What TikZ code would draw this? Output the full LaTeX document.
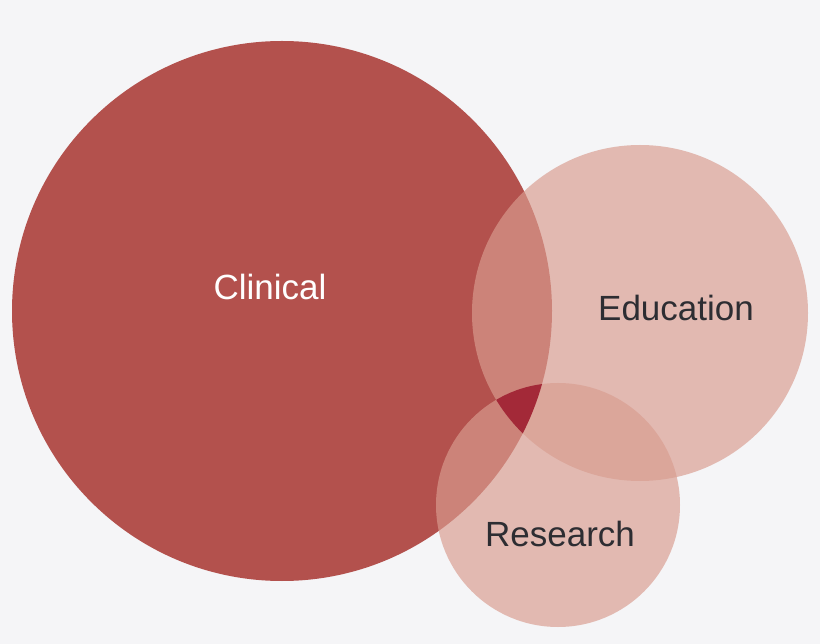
\documentclass[tikz,border=0pt]{standalone}
\usepackage{fontspec}
\setmainfont{Liberation Sans}
\definecolor{bgc}{RGB}{245,245,247}
\definecolor{clin}{RGB}{179,81,77}
\definecolor{lite}{RGB}{217,157,144}
\definecolor{core}{RGB}{163,41,56}
\definecolor{txt}{RGB}{45,45,50}
\begin{document}
\begin{tikzpicture}[x=1pt,y=-1pt,
  lbl/.style={font=\fontsize{35}{40}\selectfont}]
\fill[bgc] (0,0) rectangle (820,644);
\useasboundingbox (0,0) rectangle (820,644);
\fill[clin] (282,311) circle (270);
\fill[lite,fill opacity=0.67] (640,313) circle (168);
\fill[lite,fill opacity=0.67] (558,505) circle (122);
\begin{scope}
  \clip (282,311) circle (270);
  \clip (640,313) circle (168);
  \fill[core] (558,505) circle (122);
\end{scope}
\node[lbl,text=white] (c) at (270,287) {Clinical};
\node[lbl,text=txt] (e) at (676,308) {Education};
\node[lbl,text=txt] (r) at (560,534) {Research};
\end{tikzpicture}
\end{document}
